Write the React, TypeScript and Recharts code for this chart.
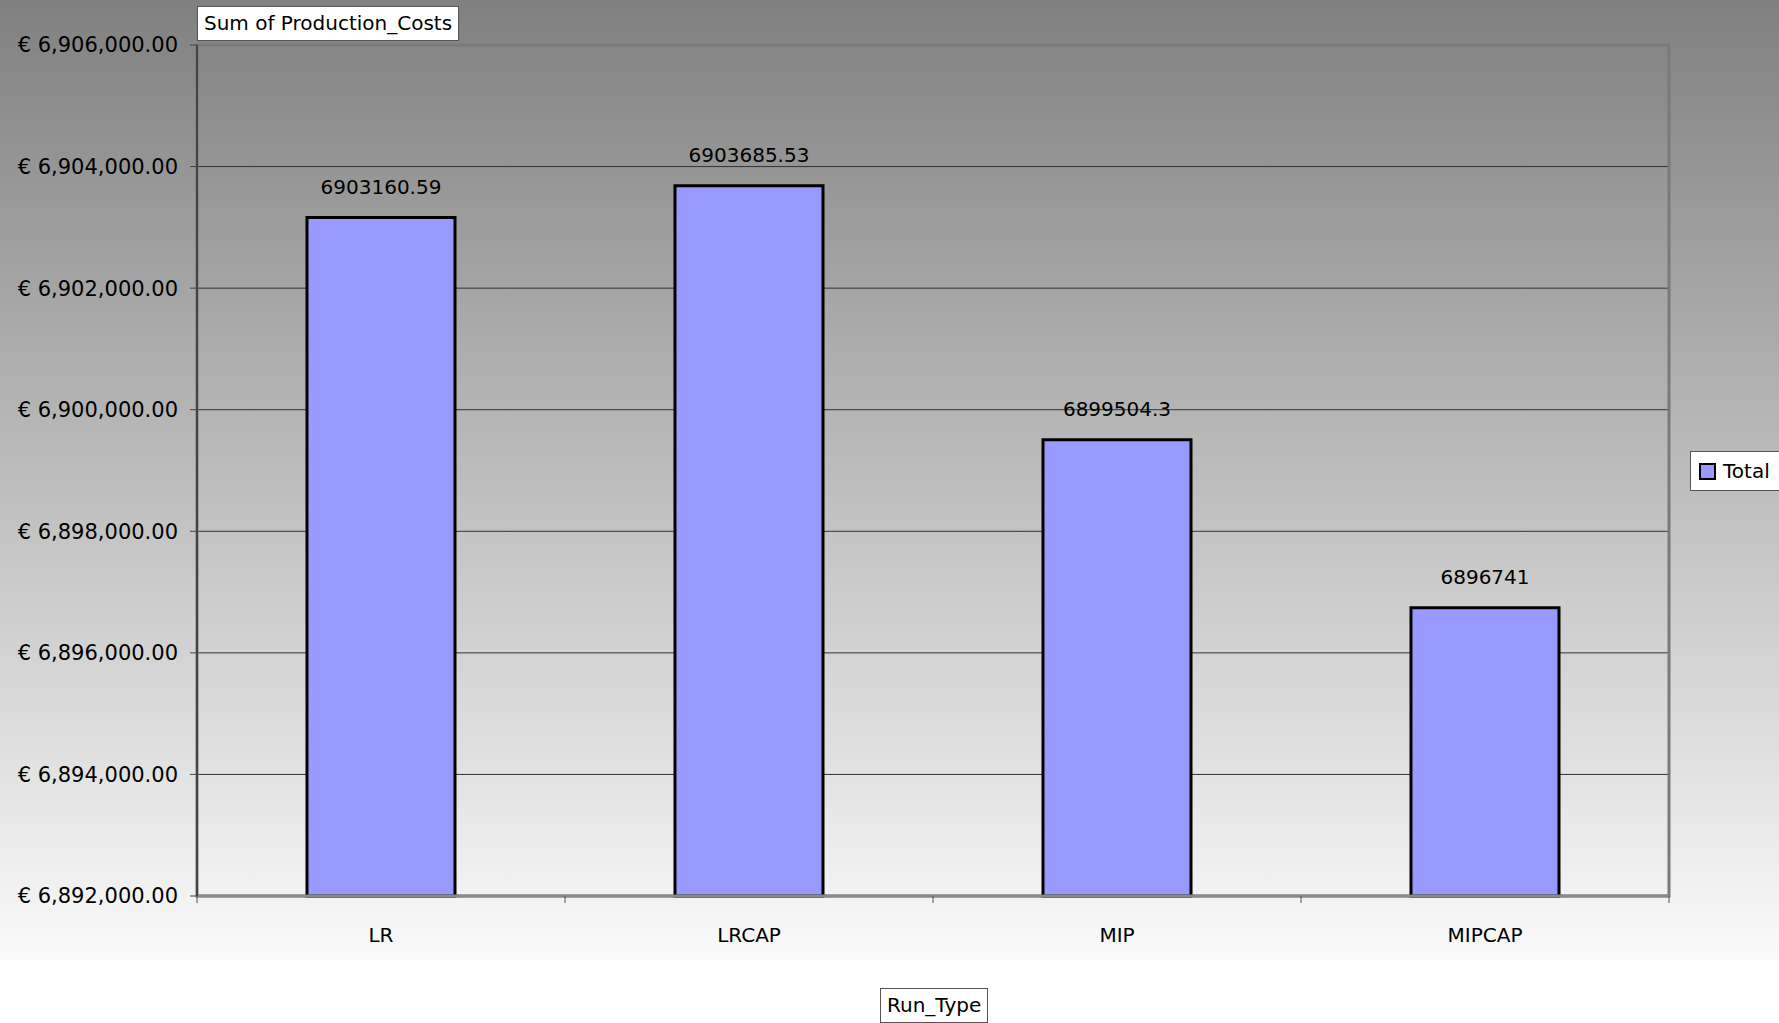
import React from "react";
import {
  BarChart,
  Bar,
  XAxis,
  YAxis,
  CartesianGrid,
  LabelList,
  ReferenceArea,
} from "recharts";

const runTypes = ["LR", "LRCAP", "MIP", "MIPCAP"];
const totals = [6903160.59, 6903685.53, 6899504.3, 6896741];
const yTicks = [6892000, 6894000, 6896000, 6898000, 6900000, 6902000, 6904000, 6906000];

const data = runTypes.map((name, i) => ({ name, Total: totals[i] }));

const FONT = "'DejaVu Sans', Verdana, sans-serif";
const X_TICK_MARGIN = 32;
const yMin = yTicks[0];
const yMax = yTicks[yTicks.length - 1];

function formatEuro(v: number) {
  return (
    "€ " +
    v.toLocaleString("en-US", { minimumFractionDigits: 2, maximumFractionDigits: 2 })
  );
}

// category label plus the small tick marks at the band boundaries
function RunTypeTick(props: any) {
  const { x, y, payload, index, visibleTicksCount } = props;
  const half = payload?.offset ?? 0;
  const axisY = y - X_TICK_MARGIN;
  const last = index === visibleTicksCount - 1;
  return (
    <g>
      <line x1={x - half} x2={x - half} y1={axisY} y2={axisY + 7} stroke="#555" strokeWidth={1} />
      {last && (
        <line x1={x + half} x2={x + half} y1={axisY} y2={axisY + 7} stroke="#555" strokeWidth={1} />
      )}
      <text x={x} y={y} dy="0.71em" textAnchor="middle" fill="#000" fontSize={20} fontFamily={FONT}>
        {payload.value}
      </text>
    </g>
  );
}

const boxStyle: React.CSSProperties = {
  position: "absolute",
  background: "#fff",
  border: "1px solid #555",
  fontFamily: FONT,
  fontSize: 20,
  color: "#000",
  whiteSpace: "nowrap",
};

export default function App() {
  return (
    <div
      style={{
        position: "absolute",
        left: 0,
        top: 0,
        width: 1779,
        height: 1023,
        background: "#fff",
        overflow: "hidden",
      }}
    >
      <div
        style={{
          position: "absolute",
          left: 0,
          top: 0,
          width: 1779,
          height: 960,
          background: "linear-gradient(to bottom, #808080 0%, #fafafa 100%)",
        }}
      >
        <BarChart
          width={1779}
          height={960}
          data={data}
          margin={{ top: 45, right: 110, bottom: 0, left: 0 }}
          style={{ fontFamily: FONT }}
        >
          <CartesianGrid vertical={false} stroke="#333" strokeWidth={1} />
          <ReferenceArea
            y1={yMin}
            y2={yMax}
            fill="none"
            fillOpacity={0}
            stroke="#7a7a7a"
            strokeWidth={3}
          />
          <XAxis
            dataKey="name"
            height={64}
            tickLine={false}
            tickSize={0}
            tickMargin={X_TICK_MARGIN}
            tick={<RunTypeTick />}
            axisLine={{ stroke: "#8a8a8a", strokeWidth: 3 }}
          />
          <YAxis
            domain={[yMin, yMax]}
            ticks={yTicks}
            width={197}
            tickSize={7}
            tickMargin={12}
            tickFormatter={formatEuro}
            tick={{ fill: "#000", fontSize: 21, fontFamily: FONT }}
            tickLine={{ stroke: "#444" }}
            axisLine={{ stroke: "#444", strokeWidth: 2 }}
          />
          <Bar
            dataKey="Total"
            fill="#9999ff"
            stroke="#000"
            strokeWidth={3}
            barSize={148}
            isAnimationActive={false}
          >
            <LabelList
              dataKey="Total"
              position="top"
              offset={24}
              fill="#000"
              fontSize={20}
              fontFamily={FONT}
            />
          </Bar>
        </BarChart>
      </div>
      <div style={{ ...boxStyle, left: 197, top: 6, padding: "0 6px", lineHeight: "33px" }}>
        Sum of Production_Costs
      </div>
      <div style={{ ...boxStyle, left: 880, top: 988, padding: "0 6px", lineHeight: "33px" }}>
        Run_Type
      </div>
      <div
        style={{
          ...boxStyle,
          left: 1690,
          top: 451,
          height: 38,
          padding: "0 20px 0 8px",
          display: "flex",
          alignItems: "center",
        }}
      >
        <span
          style={{
            display: "inline-block",
            width: 13,
            height: 13,
            background: "#9999ff",
            border: "2px solid #000",
            marginRight: 7,
          }}
        />
        Total
      </div>
    </div>
  );
}
